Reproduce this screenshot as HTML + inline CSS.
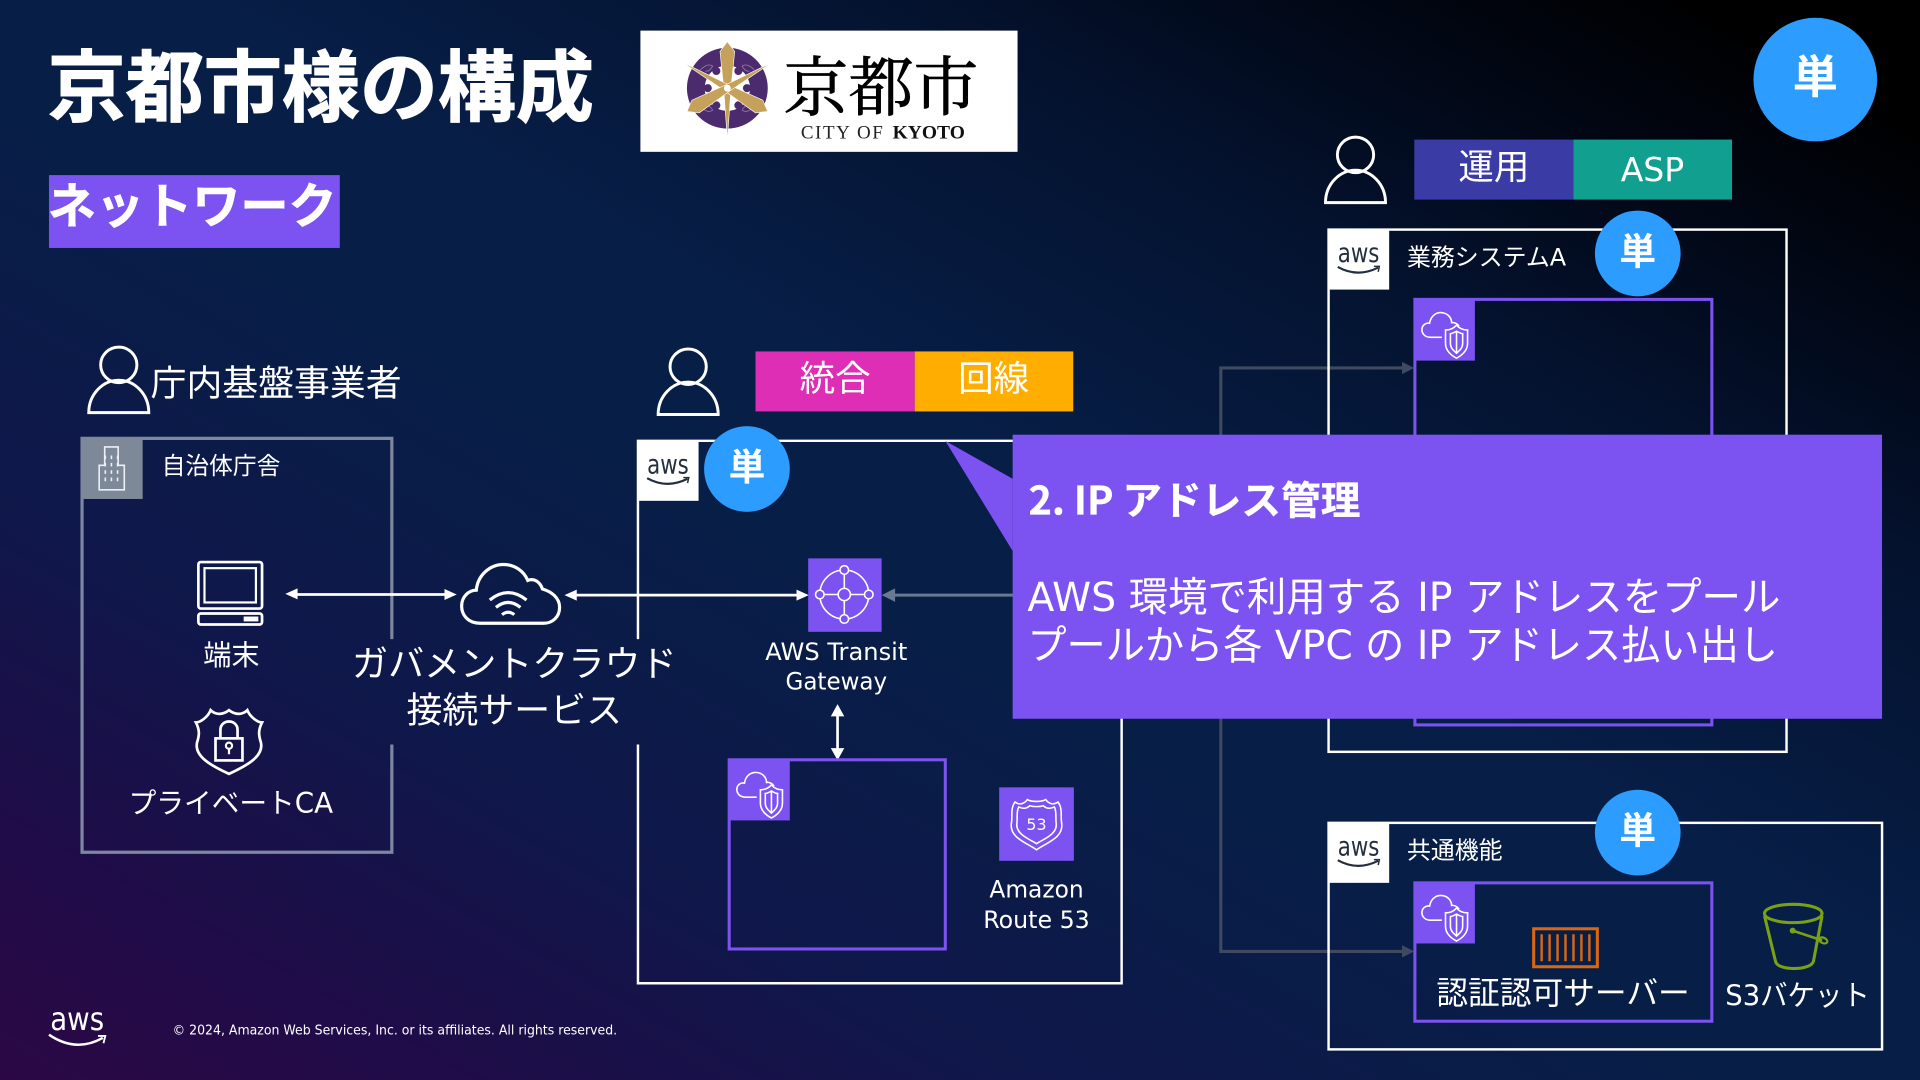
<!DOCTYPE html>
<html lang="ja"><head><meta charset="utf-8"><title>京都市様の構成</title>
<style>
html,body{margin:0;padding:0;width:1920px;height:1080px;overflow:hidden;background:#06204a}
#bg{position:absolute;left:0;top:0;width:1920px;height:1080px;background:linear-gradient(to top right,#2b0845 0%,#1f0c48 12%,#10174a 26%,#071e47 45%,#071e47 55%,#04122e 74%,#010612 86%,#000 94%)}
svg{position:absolute;left:0;top:0}
text{font-family:"DejaVu Sans","Noto Sans CJK JP",sans-serif;fill:#fff}
.b{font-weight:700}.m{text-anchor:middle}
.s{fill:none;stroke:#fff;stroke-width:2.4}
.t{fill:none;stroke:#fff;stroke-width:1.3}
</style></head><body><div id="bg"></div>
<svg width="1920" height="1080" viewBox="0 0 1568 882" xmlns="http://www.w3.org/2000/svg">
<defs>
<g id="person"><ellipse cx="0" cy="15" rx="14.800" ry="14.500" class="s"/><path d="M-24.500,54H24.500C24.500,39 13,27.500 0,27.500C-13,27.500 -24.500,39 -24.500,54Z" class="s"/></g>
<g id="awstag"><rect width="50" height="49.500" fill="#fff"/><text x="25" y="27" font-size="22" class="m" style="fill:#232f3e" textLength="34" lengthAdjust="spacingAndGlyphs">aws</text><path d="M8,31Q24,40 41,31.500" fill="none" stroke="#232f3e" stroke-width="1.800"/><path d="M37.500,30.500L42,30.500L41,35" fill="none" stroke="#232f3e" stroke-width="1.200"/></g>
<g id="vpctag"><rect width="50" height="50" fill="#7c52f0"/><path d="M23,31H14C8,31 6,26.500 7,23C8,20 11,19 13,19.500C14,13 19,10 24,11C29,12 31,16 31,19C33,18.500 36,20 37,22" class="t"/><path d="M35,21C37.500,24 40.500,25 44,25V36C44,42 39,46 35,48C31,46 26,42 26,36V25C29.500,25 32.500,24 35,21Z" class="t"/><path d="M35,26C37,27 38.500,28 40,28V36C40,40 37,42 35,44C33,42 30,40 30,36V28C31.500,28 33,27 35,26ZM35,26V44" class="t"/></g>
<g id="tan"><circle r="35" fill="#2d9cff"/><text y="9" font-size="30" class="b m">単</text></g>
</defs>

<!-- title -->
<text x="39" y="94" font-size="63.500" class="b" textLength="446" lengthAdjust="spacingAndGlyphs" style="stroke:#fff;stroke-width:.9">京都市様の構成</text>
<rect x="40" y="143" width="237.500" height="59.500" fill="#7c52f0"/>
<text x="39" y="182" font-size="39.500" class="b" textLength="236" lengthAdjust="spacingAndGlyphs" style="stroke:#fff;stroke-width:.5">ネットワーク</text>

<!-- logo -->
<rect x="523" y="25" width="308" height="99" fill="#fff"/>
<circle cx="594" cy="72" r="33" fill="#4b2a6e"/><circle cx="594" cy="72" r="18.500" fill="#fff"/>
<g fill="none" stroke="#8f79a8" stroke-width=".7"><path d="M572,57q6,-6 10,-3q-3,5 -6,4M616,57q-6,-6 -10,-3q3,5 6,4M572,87q6,6 10,3q-3,-5 -6,-4M616,87q-6,6 -10,3q3,-5 6,-4"/></g>
<g fill="#4b2a6e"><circle cx="603" cy="58" r="3.300"/><circle cx="585" cy="58" r="3.300"/><circle cx="578" cy="72" r="3.300"/><circle cx="610" cy="72" r="3.300"/><circle cx="585" cy="86" r="3.300"/><circle cx="603" cy="86" r="3.300"/></g>
<g transform="translate(594,72)" fill="#c6a15b" stroke="#fff" stroke-width=".5">
<path d="M0,-38L6,-30L3,0L0,42L-3,0L-6,-30Z"/>
<path d="M0,-38L6,-30L3,0L0,42L-3,0L-6,-30Z" transform="rotate(120)"/>
<path d="M0,-38L6,-30L3,0L0,42L-3,0L-6,-30Z" transform="rotate(240)"/>
<circle r="2.800" fill="#fff" stroke="none"/></g>
<text x="640" y="90" font-size="53" style="fill:#000;stroke:#000;stroke-width:.7;font-family:'Noto Serif CJK SC','Noto Sans CJK JP',serif" textLength="159" lengthAdjust="spacing">京都市</text>
<text x="654" y="113" font-size="15.500" style="fill:#222;font-family:'Liberation Serif',serif" textLength="67" lengthAdjust="spacing">CITY OF</text>
<text x="729" y="113" font-size="15.500" style="fill:#111;font-family:'Liberation Serif',serif;font-weight:700" textLength="59" lengthAdjust="spacingAndGlyphs">KYOTO</text>

<circle cx="1482.500" cy="65" r="50.500" fill="#2d9cff"/>
<text x="1482.500" y="76" font-size="37" class="b m">単</text>

<!-- persons -->
<use href="#person" x="97" y="283"/>
<text x="123" y="323" font-size="29.300" textLength="205" lengthAdjust="spacingAndGlyphs">庁内基盤事業者</text>
<use href="#person" x="562" y="284.500"/>
<use href="#person" x="1107" y="111.500"/>

<rect x="617" y="287" width="130" height="49" fill="#dd2eb5"/><rect x="747" y="287" width="129.500" height="49" fill="#ffae00"/>
<text x="682" y="319" font-size="29" class="m">統合</text><text x="811.500" y="319" font-size="29" class="m">回線</text>
<rect x="1155" y="114" width="130" height="49" fill="#3b3ba5"/><rect x="1285" y="114" width="129.500" height="49" fill="#11a08f"/>
<text x="1220" y="146" font-size="29" class="m">運用</text><text x="1349.500" y="148" font-size="27" class="m">ASP</text>

<!-- dim connectors -->
<g fill="none" stroke="#3f4a60" stroke-width="2.500"><path d="M997,360V300.500H1146"/><path d="M997,585V777H1146"/></g>
<polygon points="1155,300.500 1145,295.500 1145,305.500" fill="#3f4a60"/><polygon points="1155,777 1145,772 1145,782" fill="#3f4a60"/>

<!-- 自治体庁舎 -->
<path d="M320,522V358H67V696H320V608" fill="none" stroke="#7d879f" stroke-width="2.600"/>
<rect x="66" y="357" width="50.500" height="50.500" fill="#7d8998"/>
<g fill="none" stroke="#eceff4" stroke-width="1.300"><path d="M81,400V380H85.500V365H96.500V380H101.500V400Z"/><path d="M86,372V396M91,372V396M96,372V396" stroke-dasharray="3 3"/></g>
<text x="132" y="387" font-size="19.400" textLength="97" lengthAdjust="spacingAndGlyphs">自治体庁舎</text>

<!-- 端末 -->
<g fill="none" stroke="#fff"><rect x="162" y="459" width="52" height="38" rx="2" stroke-width="2.200"/><rect x="167" y="464" width="42" height="28" stroke-width="1.800"/><rect x="162" y="501" width="52" height="9" rx="2" stroke-width="2.200"/></g>
<rect x="199" y="503.500" width="12" height="4" fill="#fff"/>
<text x="189" y="543" font-size="23" class="m">端末</text>

<!-- shield -->
<path d="M160,590C164,590 170,585 172,580C176,584 182,584 187,580C192,584 198,584 202,580C204,585 210,590 214,590C211,596 211,600 213,606C216,618 200,626 187,632C174,626 158,618 161,606C163,600 163,596 160,590Z" fill="none" stroke="#fff" stroke-width="2.200"/>
<rect x="176" y="603" width="22" height="18" fill="none" stroke="#fff" stroke-width="2.200"/>
<path d="M180,603V596C180,587 194,587 194,596V603" fill="none" stroke="#fff" stroke-width="2.200"/>
<circle cx="187" cy="609" r="2.500" fill="none" stroke="#fff" stroke-width="1.800"/><path d="M187,611V616" stroke="#fff" stroke-width="1.800"/>
<text x="105" y="664" font-size="23" textLength="167" lengthAdjust="spacingAndGlyphs">プライベートCA</text>

<!-- arrows and cloud -->
<g stroke="#fff" stroke-width="2.200" fill="#fff"><path d="M242,485.500H364"/><path d="M470,486H652"/><path d="M684,584V612"/></g>
<g fill="#fff"><polygon points="233,485 243,480.500 243,489.500"/><polygon points="373,485.500 363,481 363,490"/><polygon points="461,486 471,481.500 471,490.500"/><polygon points="660.500,486 650.500,481.500 650.500,490.500"/><polygon points="684,575 678.500,585 689.500,585"/><polygon points="684,621 678.500,611 689.500,611"/></g>
<path d="M392,509C382,509 377,502 377,495C377,487 383,482 389,482C390,470 400,461 411,461C421,461 428,467 431,474C436,472 441,475 443,481C450,483 457,488 457,496C457,504 451,509 444,509Z" fill="none" stroke="#fff" stroke-width="2.600"/>
<g fill="none" stroke="#fff" stroke-width="2.600"><path d="M400,490Q415,478 430,490"/><path d="M405,496Q415,488 425,496"/><path d="M410,502Q415,498 420,502"/></g>
<text x="420" y="552" font-size="29.400" class="m" textLength="265" lengthAdjust="spacingAndGlyphs">ガバメントクラウド</text>
<text x="420" y="590" font-size="29.400" class="m" textLength="176" lengthAdjust="spacingAndGlyphs">接続サービス</text>

<!-- main AWS box -->
<path d="M521,522V360H916V803H521V608" fill="none" stroke="#fff" stroke-width="2"/>
<use href="#awstag" x="520.500" y="359.500"/>
<use href="#tan" x="610" y="383"/>

<rect x="660" y="456" width="60" height="60" fill="#7c52f0"/>
<g fill="none" stroke="#fff" stroke-width="1.300"><circle cx="689.500" cy="485.500" r="20"/><circle cx="689.500" cy="485.500" r="5"/><circle cx="689.500" cy="465.500" r="3.500" fill="#7c52f0"/><circle cx="689.500" cy="505.500" r="3.500" fill="#7c52f0"/><circle cx="669.500" cy="485.500" r="3.500" fill="#7c52f0"/><circle cx="709.500" cy="485.500" r="3.500" fill="#7c52f0"/><path d="M689.500,469V480.500M689.500,490.500V502M673,485.500H684.500M694.500,485.500H706"/></g>
<text x="683" y="539" font-size="19.500" class="m" textLength="116" lengthAdjust="spacingAndGlyphs">AWS Transit</text>
<text x="683" y="563" font-size="19.500" class="m" textLength="83" lengthAdjust="spacingAndGlyphs">Gateway</text>
<path d="M730,486H830" stroke="#6a7890" stroke-width="2.500"/><polygon points="720,486 731,480.500 731,491.500" fill="#6a7890"/>

<rect x="595.500" y="620.500" width="176.500" height="154.500" fill="none" stroke="#7c52f0" stroke-width="2.500"/>
<use href="#vpctag" x="595" y="620"/>

<rect x="816" y="643" width="61" height="60" fill="#7c52f0"/>
<g fill="none" stroke="#fff" stroke-width="1.300"><path d="M846.500,694C838,688 824,684 826,672C827,667 825,660 829,655C833,658 837,656 839,653C842,655 851,655 854,653C856,656 860,658 864,655C868,660 866,667 867,672C869,684 855,688 846.500,694Z"/><path d="M846.500,689C840,685 829,681 830.500,672C831,667 830,662 832,659C836,661 839,660 841,658C844,659 849,659 852,658C854,660 857,661 861,659C863,662 862,667 862.500,672C864,681 853,685 846.500,689Z"/></g>
<text x="846.500" y="678" font-size="13" class="m">53</text>
<text x="846.500" y="733" font-size="19.500" class="m" textLength="77" lengthAdjust="spacingAndGlyphs">Amazon</text>
<text x="846.500" y="758" font-size="19.500" class="m" textLength="87" lengthAdjust="spacingAndGlyphs">Route 53</text>

<!-- 業務システムA -->
<rect x="1085" y="187.500" width="374" height="426.500" fill="none" stroke="#fff" stroke-width="2"/>
<use href="#awstag" x="1084.500" y="187"/>
<text x="1149" y="217" font-size="19.500" textLength="130" lengthAdjust="spacingAndGlyphs">業務システムA</text>
<rect x="1155.500" y="244.500" width="242.500" height="347.500" fill="none" stroke="#7c52f0" stroke-width="2.500"/>
<use href="#vpctag" x="1154.500" y="244.500"/>
<use href="#tan" x="1337.500" y="207"/>

<!-- 共通機能 -->
<rect x="1085" y="672" width="452" height="185" fill="none" stroke="#fff" stroke-width="2"/>
<use href="#awstag" x="1084.500" y="671.500"/>
<text x="1149" y="701" font-size="19.500" textLength="78" lengthAdjust="spacingAndGlyphs">共通機能</text>
<rect x="1155.500" y="721" width="242.500" height="113" fill="none" stroke="#7c52f0" stroke-width="2.500"/>
<use href="#vpctag" x="1154.500" y="720.500"/>
<use href="#tan" x="1337.500" y="680"/>
<rect x="1252.500" y="758.500" width="52" height="31" fill="none" stroke="#d86613" stroke-width="2.500"/>
<path d="M1259,763V785M1265.500,763V785M1272,763V785M1278.500,763V785M1285,763V785M1291.500,763V785M1298,763V785" stroke="#d86613" stroke-width="2"/>
<text x="1276.500" y="820" font-size="26" class="m" textLength="207" lengthAdjust="spacingAndGlyphs">認証認可サーバー</text>
<g fill="none" stroke="#7aa116" stroke-width="2.500"><ellipse cx="1464.500" cy="746" rx="23.500" ry="7.500"/><path d="M1441,748L1450,785C1451,793 1479,793 1481,785L1488,748"/><path d="M1464,760L1488,768" stroke-width="2.200"/></g>
<circle cx="1464" cy="760" r="2.400" fill="#7aa116"/><ellipse cx="1489" cy="768" rx="3.500" ry="2.200" transform="rotate(25 1489 768)" fill="none" stroke="#7aa116" stroke-width="1.800"/>
<text x="1409" y="821" font-size="23.500" textLength="118" lengthAdjust="spacingAndGlyphs">S3バケット</text>

<!-- callout -->
<polygon points="772,360 827,391 827,450" fill="#7c52f0"/>
<rect x="827" y="355" width="710" height="232" fill="#7c52f0"/>
<text x="840" y="420" font-size="32" class="b" textLength="271" lengthAdjust="spacingAndGlyphs" style="font-family:'Noto Sans CJK JP',sans-serif;stroke:#fff;stroke-width:.3">2. IP アドレス管理</text>
<text x="839" y="499" font-size="33" textLength="615" lengthAdjust="spacingAndGlyphs">AWS 環境で利用する IP アドレスをプール</text>
<text x="839" y="538" font-size="33" textLength="613" lengthAdjust="spacingAndGlyphs">プールから各 VPC の IP アドレス払い出し</text>

<!-- footer -->
<text x="63" y="841" font-size="26" class="m" textLength="44" lengthAdjust="spacingAndGlyphs">aws</text>
<path d="M40,845Q62,860 84,847.500" fill="none" stroke="#fff" stroke-width="2"/><path d="M80,846L86,846L84.500,852" fill="none" stroke="#fff" stroke-width="1.500"/>
<text x="141" y="845" font-size="10.800" textLength="363" lengthAdjust="spacingAndGlyphs">© 2024, Amazon Web Services, Inc. or its affiliates. All rights reserved.</text>
</svg></body></html>
